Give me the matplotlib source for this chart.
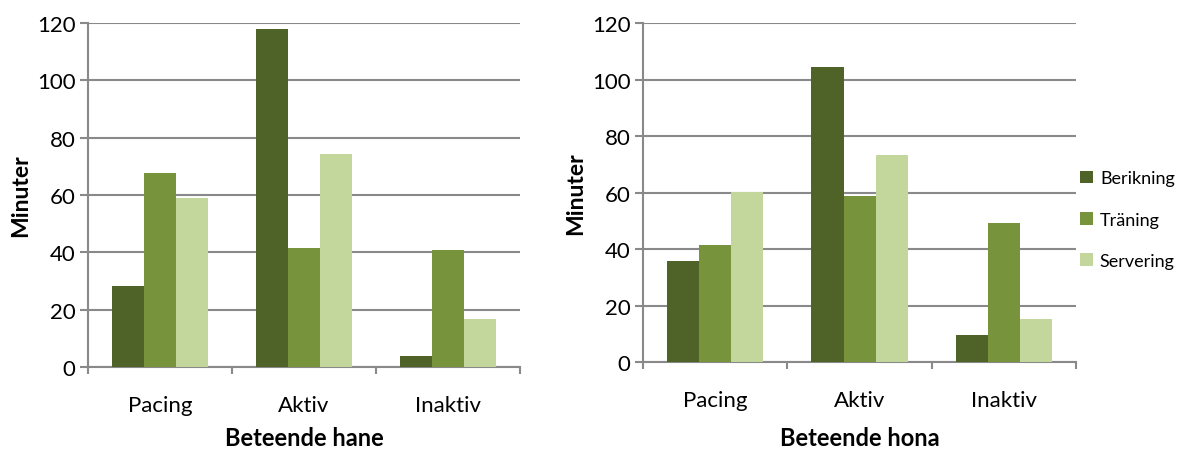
import numpy as np
import matplotlib.pyplot as plt

plt.rcParams['font.family'] = ['Lato', 'DejaVu Sans']

# Minutes per behaviour category and treatment
categories = ['Pacing', 'Aktiv', 'Inaktiv']
series_names = ['Berikning', 'Träning', 'Servering']

hane_berikning = [28.2, 118.0, 3.7]
hane_traning = [67.7, 41.4, 40.8]
hane_servering = [59.0, 74.2, 16.8]

hona_berikning = [35.8, 104.5, 9.4]
hona_traning = [41.4, 58.9, 49.1]
hona_servering = [60.3, 73.2, 15.2]

colors = ['#4F6228', '#77933C', '#C3D69B']
grid_color = '#898989'

fig = plt.figure(figsize=(11.79, 4.52), dpi=100)
ax1 = fig.add_axes([0.0746, 0.1858, 0.3664, 0.761])
ax2 = fig.add_axes([0.5454, 0.1969, 0.3673, 0.750])


def draw_panel(ax, data, xlabel, xpad):
    x = np.arange(len(categories))
    width = 0.222
    for i, (vals, name) in enumerate(zip(data, series_names)):
        ax.bar(x + (i - 1) * width, vals, width, color=colors[i],
               label=name, zorder=3)
    ax.set_xlim(-0.5, len(categories) - 0.5)
    ax.set_ylim(0, 120)
    ax.set_yticks(range(0, 121, 20))
    ax.yaxis.grid(True, color=grid_color, linewidth=1.5, zorder=0)
    ax.set_axisbelow(True)
    ax.set_xticks(x)
    ax.set_xticklabels(categories)
    # category separators as ticks at the group boundaries
    ax.set_xticks(np.arange(-0.5, len(categories)), minor=True)
    ax.tick_params(axis='x', which='major', length=0, pad=20, labelsize=16)
    ax.tick_params(axis='x', which='minor', length=5, width=1.5,
                   color=grid_color, direction='out')
    ax.tick_params(axis='y', length=6, width=1.5, color=grid_color,
                   labelsize=16, pad=3)
    for s in ['top', 'right']:
        ax.spines[s].set_visible(False)
    for s in ['left', 'bottom']:
        ax.spines[s].set_color(grid_color)
        ax.spines[s].set_linewidth(1.5)
    ax.set_ylabel('Minuter', fontsize=16.5, fontweight='bold', labelpad=4)
    ax.set_xlabel(xlabel, fontsize=17, fontweight='bold', labelpad=xpad)


draw_panel(ax1, [hane_berikning, hane_traning, hane_servering],
           'Beteende hane', 8)
draw_panel(ax2, [hona_berikning, hona_traning, hona_servering],
           'Beteende hona', 12)

ax2.legend(loc='center left', bbox_to_anchor=(0.98, 0.42), frameon=False,
           fontsize=13, handlelength=0.7, handleheight=0.7, handletextpad=0.4,
           labelspacing=1.4, borderaxespad=0.3)

fig.savefig('out.png', dpi=100)
